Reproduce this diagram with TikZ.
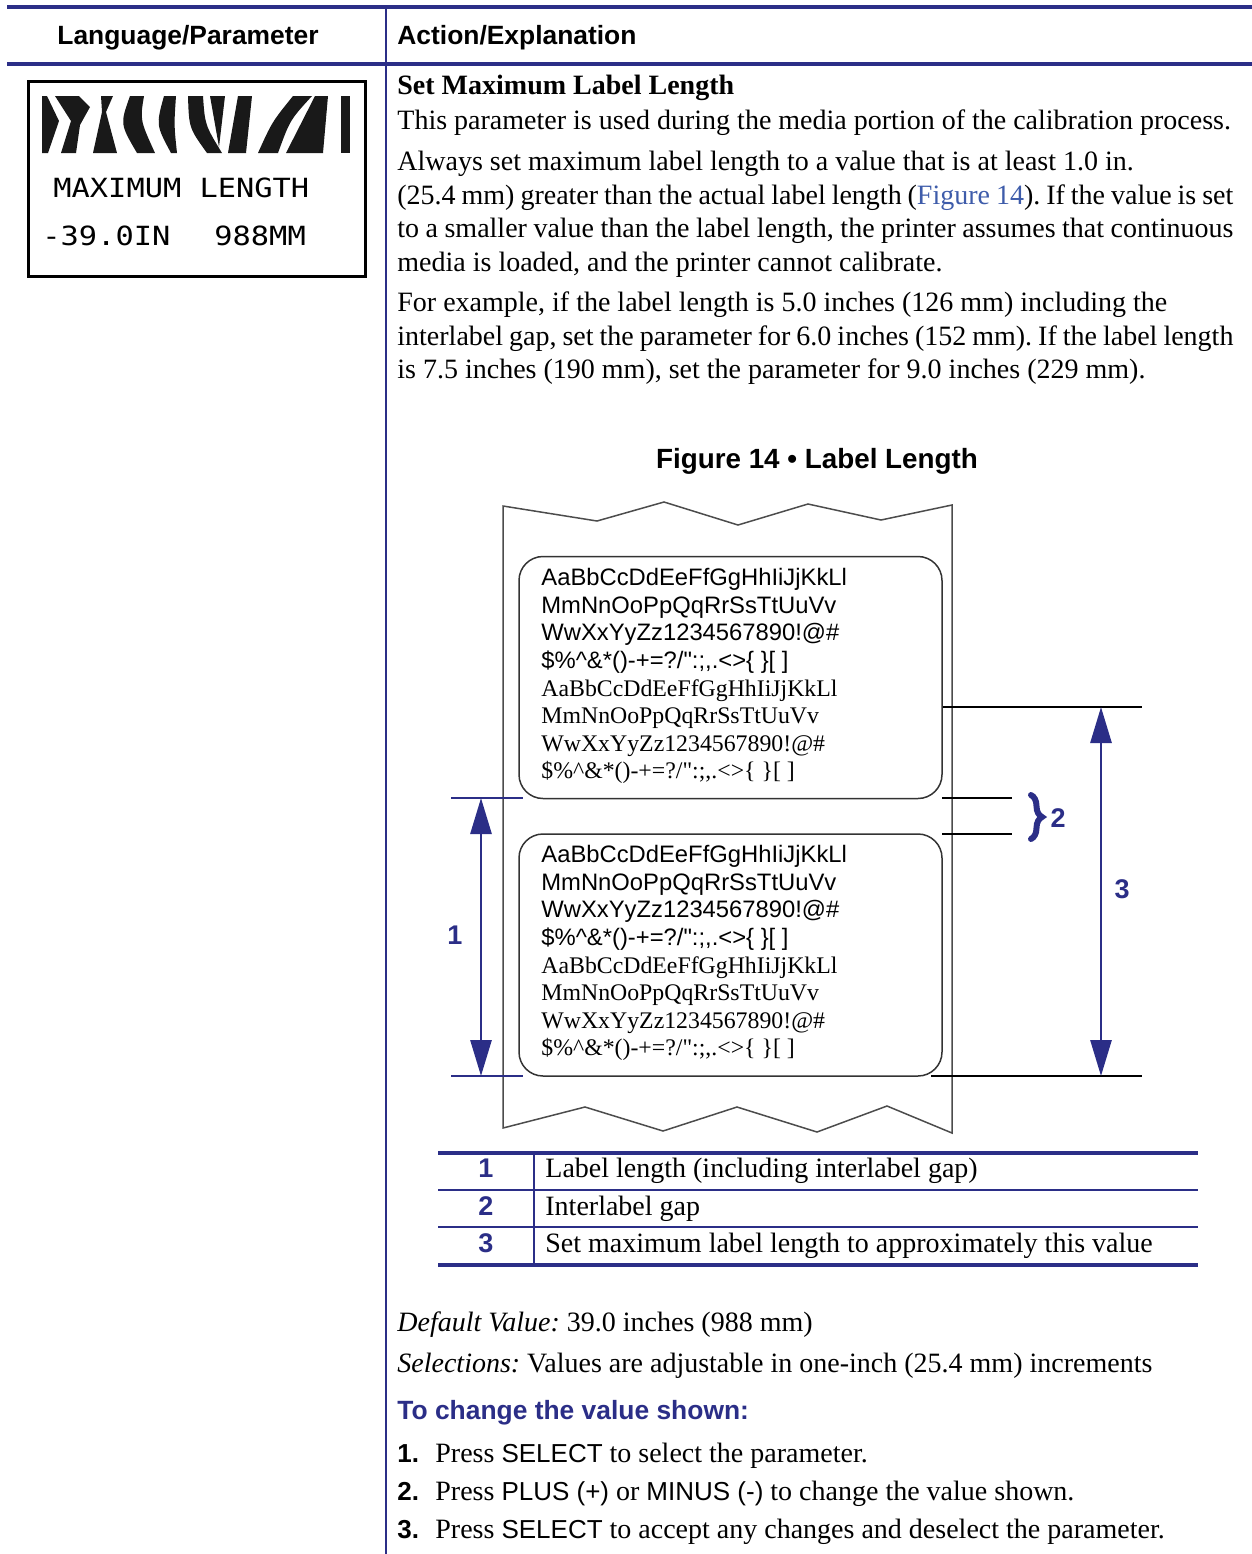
\documentclass[tikz,border=0pt]{standalone}
\usepackage{fontspec}
\setmainfont{Liberation Serif}
\setsansfont{Liberation Sans}
\newfontfamily\lcdfont{DejaVu Sans Mono}
\usetikzlibrary{arrows.meta, decorations.pathreplacing}

\definecolor{zblue}{RGB}{43,46,135}
\definecolor{linkblue}{RGB}{62,92,170}

\newcommand{\keyword}[1]{{\sffamily\fontsize{13}{16}\selectfont #1}}
\newcommand{\lcdtext}[1]{\scalebox{1.15}[1]{\lcdfont\fontsize{13.2}{15}\selectfont #1}}
\newcommand{\fitline}[1]{\hbox to 418pt{#1}}
\frenchspacing

\begin{document}
\begin{tikzpicture}[
    x=0.5pt, y=-0.5pt,
    body/.style={anchor=base west, inner sep=0pt, font=\fontsize{14}{16.7}\selectfont},
    head/.style={anchor=base west, inner sep=0pt, font=\fontsize{13.2}{16}\sffamily\bfseries},
    sample sans/.style={anchor=base west, inner sep=0pt, font=\fontsize{11.9}{14}\sffamily},
    sample serif/.style={anchor=base west, inner sep=0pt, font=\fontsize{11.9}{14}\rmfamily},
    lcd/.style={anchor=base west, inner sep=0pt},
    callout/.style={inner sep=0pt, text=zblue, font=\fontsize{13.5}{15}\sffamily\bfseries},
    blue rule/.style={zblue, line width=2pt},
    thin rule/.style={zblue, line width=1pt},
    paper/.style={draw=black!70, line width=0.75pt},
    label box/.style={draw=black!80, line width=0.75pt, rounded corners=12pt,
        minimum width=211.5pt, minimum height=121pt, inner sep=0pt},
    dim arrow/.style={zblue, line width=1.4pt,
        {Triangle[length=18pt, width=10.5pt]}-{Triangle[length=18pt, width=10.5pt]}},
    ext line/.style={black, line width=0.9pt},
    blue ext/.style={zblue, line width=1pt},
    stripe/.style={fill=black!90}
]
\useasboundingbox (0,0) rectangle (1252,1554);

% === Table frame ===
\draw[blue rule] (7,7) -- (1252,7);
\draw[blue rule] (7,64) -- (1252,64);
\draw[thin rule] (386,7) -- (386,1554);

\node[head, anchor=base] (hdrParam) at (188,44) {Language/Parameter};
\node[head] (hdrAction) at (397,44) {Action/Explanation};

% === Control panel display ===
\draw[black, line width=1.5pt] (28,81) rectangle (365,276);
\fill[stripe] (42,96) -- (47,96) -- (59,121) -- (48,153) -- (42,153) -- cycle;
\fill[stripe] (55,96) -- (79,96) -- (90,107) -- (80,125) -- (76,153) -- (61,153) -- (71,121) -- cycle;
\fill[stripe] (101,96) -- (113,96) -- (106,112) -- (117,153) -- (93,153) -- (102,112) -- cycle;
\fill[stripe] (130,96) -- (144,96) .. controls (140,120) .. (155,153) -- (137,153) .. controls (120,124) .. (130,96) -- cycle;
\fill[stripe] (164,96) -- (176,96) .. controls (174,125) .. (177,153) -- (171,153) .. controls (156,125) .. (164,96) -- cycle;
\fill[stripe] (188,96) -- (203,96) .. controls (205,125) .. (222,153) -- (207,153) .. controls (189,128) .. (188,96) -- cycle;
\fill[stripe] (210,96) -- (225,96) -- (219,147) -- cycle;
\fill[stripe] (238,96) -- (252,96) -- (246,153) -- (228,153) -- cycle;
\fill[stripe] (293,96) -- (312,96) .. controls (290,120) .. (278,153) -- (258,153) .. controls (272,122) .. (293,96) -- cycle;
\fill[stripe] (315,96) -- (328,96) -- (323,153) -- (286,153) -- cycle;
\fill[stripe] (341,96) rectangle (350,153);

\node[lcd] (lcdName) at (53,197) {\lcdtext{MAXIMUM LENGTH}};
\node[lcd] (lcdInch) at (42,245) {\lcdtext{-39.0IN}};
\node[lcd] (lcdMm) at (214,245) {\lcdtext{988MM}};

% === Explanation ===
\node[body] (title) at (397,94) {\textbf{Set Maximum Label Length}};
\node[body] (par1) at (397,129) {This parameter is used during the media portion of the calibration process.};
\node[body] (par2a) at (397,170) {Always set maximum label length to a value that is at least 1.0 in.};
\node[body] (par2b) at (397,204) {\fitline{(25.4 mm) greater than the actual label length (\textcolor{linkblue}{Figure 14}). If the value is set}};
\node[body] (par2c) at (397,237) {\fitline{to a smaller value than the label length, the printer assumes that continuous}};
\node[body] (par2d) at (397,271) {media is loaded, and the printer cannot calibrate.};
\node[body] (par3a) at (397,311) {For example, if the label length is 5.0 inches (126 mm) including the};
\node[body] (par3b) at (397,345) {\fitline{interlabel gap, set the parameter for 6.0 inches (152 mm). If the label length}};
\node[body] (par3c) at (397,378) {is 7.5 inches (190 mm), set the parameter for 9.0 inches (229 mm).};

% === Figure 14 ===
\node[head, anchor=base, font=\fontsize{13.9}{16}\sffamily\bfseries] (caption) at (817,468) {Figure 14 \textbullet\ Label Length};

% paper strip with torn ends
\draw[paper] (503,506) -- (597,521) -- (664,502) -- (738,525) -- (808,504) -- (881,520) -- (952,505)
    -- (952,1133) -- (887,1106) -- (817,1132) -- (737,1107) -- (663,1131) -- (585,1107) -- (503,1128) -- cycle;

\node[label box] (label1) at (730.5,677.5) {};
\node[label box] (label2) at (730.5,955) {};

\foreach \dy/\n in {0/a, 277/b} {
  \begin{scope}[shift={(0,\dy)}]
    \node[sample sans] (txt\n1) at (541,585) {AaBbCcDdEeFfGgHhIiJjKkLl};
    \node[sample sans] (txt\n2) at (541,613) {MmNnOoPpQqRrSsTtUuVv};
    \node[sample sans] (txt\n3) at (541,640) {WwXxYyZz1234567890!@\#};
    \node[sample sans] (txt\n4) at (541,668) {\$\%\textasciicircum\&*()-+=?/\textquotedbl:;,.<>\{ \}[ ]};
    \node[sample serif] (txt\n5) at (541,696) {AaBbCcDdEeFfGgHhIiJjKkLl};
    \node[sample serif] (txt\n6) at (541,723) {MmNnOoPpQqRrSsTtUuVv};
    \node[sample serif] (txt\n7) at (541,751) {WwXxYyZz1234567890!@\#};
    \node[sample serif] (txt\n8) at (541,778) {\$\%\textasciicircum\&*()-+=?/\textquotedbl:;,.<>\{ \}[ ]};
  \end{scope}
}

% dimension 1: label length
\coordinate (lenTop) at (481,798);
\coordinate (lenBot) at (481,1076);
\draw[blue ext] (451,798) -- (523,798);
\draw[blue ext] (451,1076) -- (523,1076);
\draw[dim arrow] (lenTop) -- (lenBot);
\node[callout] (num1) at (455,935) {1};

% dimension 2: interlabel gap
\draw[ext line] (942,798) -- (1012,798);
\draw[ext line] (942,834) -- (1012,834);
\coordinate (gapTop) at (1031,795);
\coordinate (gapBot) at (1031,839);
\draw[zblue, line width=3pt, line cap=round, decorate, decoration={brace, amplitude=5.5pt}] (gapTop) -- (gapBot);
\node[callout] (num2) at (1058,818) {2};

% dimension 3: maximum length
\coordinate (maxTop) at (1101,707);
\coordinate (maxBot) at (1101,1076);
\draw[ext line] (943,707) -- (1142,707);
\draw[ext line] (931,1076) -- (1142,1076);
\draw[dim arrow] (maxTop) -- (maxBot);
\node[callout] (num3) at (1122,889) {3};

% === Legend ===
\draw[blue rule] (438,1153) -- (1198,1153);
\draw[thin rule] (438,1190) -- (1198,1190);
\draw[thin rule] (438,1227) -- (1198,1227);
\draw[blue rule] (438,1265) -- (1198,1265);
\draw[thin rule] (534,1153) -- (534,1265);

\node[callout, anchor=base] (key1) at (486,1177) {1};
\node[body] (keyText1) at (545,1177) {Label length (including interlabel gap)};
\node[callout, anchor=base] (key2) at (486,1215) {2};
\node[body] (keyText2) at (545,1215) {Interlabel gap};
\node[callout, anchor=base] (key3) at (486,1252) {3};
\node[body] (keyText3) at (545,1252) {Set maximum label length to approximately this value};

% === Values and steps ===
\node[body] (default) at (397,1331) {\textit{Default Value:} 39.0 inches (988 mm)};
\node[body] (select) at (397,1372) {\textit{Selections:} Values are adjustable in one-inch (25.4 mm) increments};
\node[head, text=zblue] (steps) at (397,1419) {To change the value shown:};

\node[head, font=\fontsize{13}{16}\sffamily\bfseries] (step1n) at (397,1462) {1.};
\node[body] (step1) at (435,1462) {Press \keyword{SELECT} to select the parameter.};
\node[head, font=\fontsize{13}{16}\sffamily\bfseries] (step2n) at (397,1500) {2.};
\node[body] (step2) at (435,1500) {Press \keyword{PLUS (+)} or \keyword{MINUS (-)} to change the value shown.};
\node[head, font=\fontsize{13}{16}\sffamily\bfseries] (step3n) at (397,1538) {3.};
\node[body] (step3) at (435,1538) {Press \keyword{SELECT} to accept any changes and deselect the parameter.};

\end{tikzpicture}
\end{document}
